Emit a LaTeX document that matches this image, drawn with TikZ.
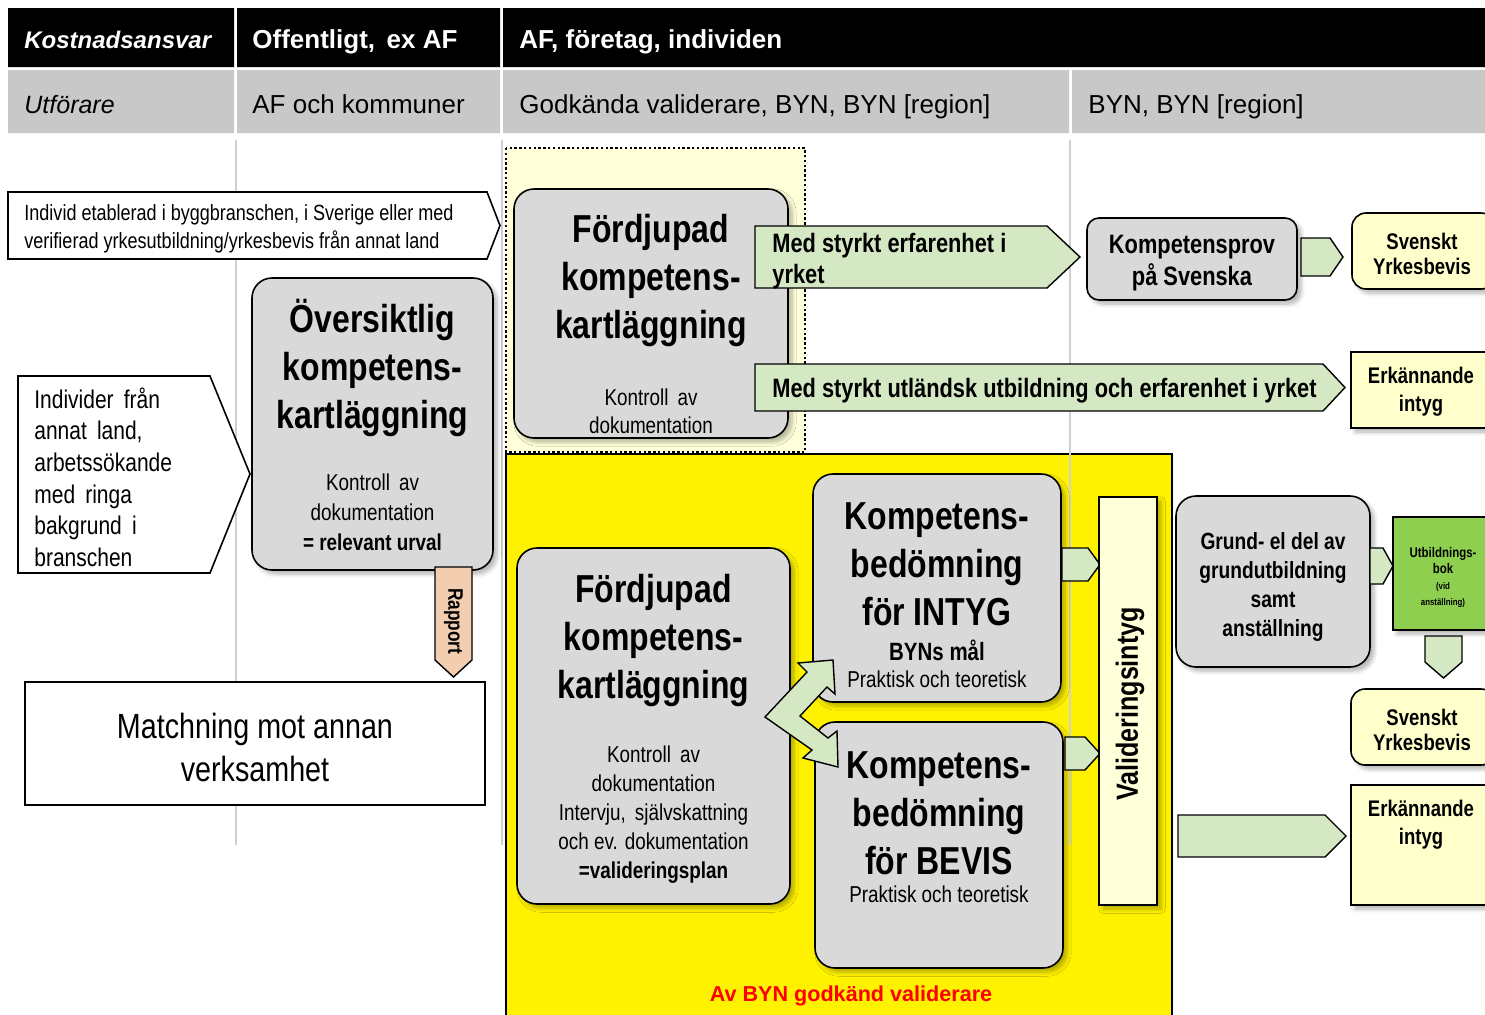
\documentclass[tikz,border=0pt]{standalone}
\usepackage{fontspec}
\setmainfont{Liberation Sans}
\newfontfamily\nar[FakeStretch=0.82]{Liberation Sans}
\usetikzlibrary{shadows.blur}
\definecolor{hdrgray}{HTML}{C8C8C8}
\definecolor{boxgray}{HTML}{D9D9D9}
\definecolor{lyellow}{HTML}{FFFFCC}
\definecolor{dyellow}{HTML}{FFFFDA}
\definecolor{lgreen}{HTML}{D5E8C4}
\definecolor{dgreen}{HTML}{8FCF50}
\definecolor{peach}{HTML}{F3CDAF}
\definecolor{vline}{HTML}{D0D0D0}
\begin{document}
\begin{tikzpicture}[x=0.5pt,y=-0.5pt,
  shd/.style={blur shadow={shadow xshift=2pt,shadow yshift=-2pt,shadow blur steps=6,shadow opacity=30}},
  gbox/.style={draw=black,fill=boxgray,line width=0.8pt,rounded corners=10pt,shd},
  ybox/.style={draw=black,fill=lyellow,line width=0.8pt,shd},
  garr/.style={draw=black,fill=lgreen,line width=0.7pt},
  warr/.style={draw=black,fill=white,line width=0.8pt},
  txt/.style={inner sep=0pt,align=center,yshift=-1pt},
  hdr/.style={inner sep=0pt,anchor=base west,font=\fontsize{13}{15}\selectfont},
  title/.style={txt,font=\nar\bfseries\fontsize{19.5}{24}\selectfont},
  small/.style={txt,font=\nar\fontsize{11.5}{14.5}\selectfont},
  btxt/.style={txt,font=\nar\bfseries\fontsize{11.3}{12.5}\selectfont}
]
\useasboundingbox (0,0) rectangle (1485,1014);
\clip (0,0) rectangle (1485,1014);
% header
\fill[black] (8,8) rectangle (234,67) (237,8) rectangle (500,67) (503,8) rectangle (1490,67);
\fill[hdrgray] (8,70) rectangle (234,133) (237,70) rectangle (500,133) (503,70) rectangle (1069,133) (1072,70) rectangle (1490,133);
\node[hdr,text=white,font=\bfseries\itshape\fontsize{12}{15}\selectfont] (h1) at (24,48) {Kostnadsansvar};
\node[hdr,text=white,font=\bfseries\fontsize{13}{15}\selectfont] (h2) at (252,48) {Offentligt,\, ex AF};
\node[hdr,text=white,font=\bfseries\fontsize{13}{15}\selectfont] (h3) at (519,48) {AF, företag, individen};
\node[hdr,font=\itshape\fontsize{12.5}{15}\selectfont] (u1) at (24,113) {Utförare};
\node[hdr] (u2) at (252,113) {AF och kommuner};
\node[hdr] (u3) at (519,113) {Godkända validerare, BYN, BYN [region]};
\node[hdr] (u4) at (1088,113) {BYN, BYN [region]};
% yellow area
\fill[dyellow] (506,148) rectangle (805,452);
\draw[line width=1.4pt,dash pattern=on 1.2pt off 1.2pt] (506,148) rectangle (805,452);
\fill[yellow] (506,454) rectangle (1172,1020);
\draw[line width=1pt] (506,1020) -- (506,454) -- (1172,454) -- (1172,1020);
% column lines
\draw[vline,line width=0.6pt] (236,140) -- (236,845) (502,140) -- (502,845) (1070,140) -- (1070,845);
% left arrows
\draw[warr] (8,192) -- (487,192) -- (500,225.5) -- (487,259) -- (8,259) -- cycle;
\node[txt,anchor=west,align=left,font=\nar\fontsize{11}{14}\selectfont] (ind1) at (24,227) {Individ etablerad i byggbranschen, i Sverige eller med\\verifierad yrkesutbildning/yrkesbevis från annat land};
\draw[warr] (18,376) -- (210,376) -- (250,474) -- (210,573) -- (18,573) -- cycle;
\node[txt,anchor=west,align=left,font=\nar\fontsize{12.8}{15.8}\selectfont] (ind2) at (34,475) {Individer\, från\\annat\, land,\\arbetssökande\\med\, ringa\\bakgrund\, i\\branschen};
% Oversiktlig
\node[gbox,minimum width=120.5pt,minimum height=146pt] (ovs) at (372.5,424) {};
\node[title] (ovst) at (372.5,366) {Översiktlig\\kompetens-\\kartläggning};
\node[small,font=\nar\fontsize{11.5}{15}\selectfont] (ovss) at (372.5,510) {Kontroll\, av\\dokumentation\\\textbf{= relevant urval}};
% Rapport
\draw[line width=0.7pt,fill=peach] (435,567) -- (472,567) -- (472,660) -- (453.5,677) -- (435,660) -- cycle;
\node[txt,rotate=-90,font=\nar\bfseries\fontsize{10.5}{12}\selectfont] (rap) at (453.5,619) {Rapport};
% Matchning
\node[draw=black,line width=0.8pt,fill=white,minimum width=230pt,minimum height=61.5pt] (mat) at (255,743.5) {};
\node[txt,font=\nar\fontsize{17.5}{21.5}\selectfont] (matt) at (255,745) {Matchning mot annan\\verksamhet};
% Fordjupad 1
\node[gbox,minimum width=137pt,minimum height=124.5pt] (fk1) at (651,313.5) {};
\node[title] (fk1t) at (651,278) {Fördjupad\\kompetens-\\kartläggning};
\node[small,font=\nar\fontsize{11.5}{14}\selectfont] (fk1s) at (651,409) {Kontroll\, av\\dokumentation};
% green arrows top
\draw[garr] (755,226) -- (1047,226) -- (1080,257) -- (1047,288) -- (755,288) -- cycle;
\node[txt,anchor=west,align=left,font=\nar\bfseries\fontsize{13.3}{15.5}\selectfont] (ga1t) at (772,259) {Med styrkt erfarenhet i\\yrket};
\node[gbox,rounded corners=6pt,minimum width=105pt,minimum height=41pt] (kps) at (1192,259) {};
\node[txt,font=\nar\bfseries\fontsize{13.3}{16}\selectfont] (kpst) at (1192,261) {Kompetensprov\\på Svenska};
\draw[garr] (1301,238) -- (1330,238) -- (1343,257) -- (1330,276) -- (1301,276) -- cycle;
\node[ybox,rounded corners=7pt,minimum width=71.5pt,minimum height=38pt] (sy1) at (1423.5,251) {};
\node[btxt] (sy1t) at (1422,252) {Svenskt\\Yrkesbevis};
\draw[garr] (755,364) -- (1323,364) -- (1345,387.5) -- (1323,411) -- (755,411) -- cycle;
\node[txt,anchor=west,font=\nar\bfseries\fontsize{13.3}{15.5}\selectfont] (ga3t) at (772,389) {Med styrkt utländsk utbildning och erfarenhet i yrket};
\node[ybox,minimum width=72pt,minimum height=38pt] (ei1) at (1423,390) {};
\node[btxt,font=\nar\bfseries\fontsize{11.3}{14}\selectfont] (ei1t) at (1421,390) {Erkännande\\intyg};
% Fordjupad 2
\node[gbox,minimum width=136.5pt,minimum height=178pt] (fk2) at (653.5,726) {};
\node[title] (fk2t) at (653.5,638) {Fördjupad\\kompetens-\\kartläggning};
\node[small] (fk2s) at (653.5,813) {Kontroll\, av\\dokumentation\\Intervju,\, självskattning\\och ev. dokumentation\\\textbf{=valideringsplan}};
% Kompetensbedomning INTYG
\node[gbox,minimum width=124pt,minimum height=114pt] (kbi) at (937,588) {};
\node[title] (kbit) at (937,562) {Kompetens-\\bedömning\\för INTYG};
\node[txt,font=\nar\bfseries\fontsize{12.5}{14}\selectfont] (kbim) at (937,648) {BYNs mål};
\node[small] (kbis) at (937,677) {Praktisk och teoretisk};
% Kompetensbedomning BEVIS
\node[gbox,minimum width=124pt,minimum height=123pt] (kbb) at (939,845) {};
\node[title] (kbbt) at (939,811) {Kompetens-\\bedömning\\för BEVIS};
\node[small] (kbbs) at (939,892) {Praktisk och teoretisk};
% double arrow
\draw[garr] (765,717) -- (807,672) -- (798,663) -- (833,660) -- (835,694) -- (827,687) -- (800,716)
  -- (828,738) -- (837,731) -- (838,767) -- (803,758) -- (812,750) -- cycle;
% arrows to Valideringsintyg
\draw[garr] (1062,548) -- (1088,548) -- (1100,564.5) -- (1088,581) -- (1062,581) -- cycle;
\draw[garr] (1065,737) -- (1085,737) -- (1100,753.5) -- (1085,770) -- (1065,770) -- cycle;
\node[ybox,fill=dyellow,minimum width=29pt,minimum height=204pt] (val) at (1128,701) {};
\node[txt,rotate=90,font=\nar\bfseries\fontsize{15.3}{18}\selectfont] (valt) at (1130,702) {Valideringsintyg};
% Grund
\node[gbox,minimum width=97pt,minimum height=85.5pt] (grd) at (1273,581.5) {};
\node[txt,font=\nar\bfseries\fontsize{11.7}{14.6}\selectfont] (grdt) at (1273,585) {Grund- el del av\\grundutbildning\\samt\\anställning};
\draw[garr] (1370,548) -- (1383,548) -- (1393,566) -- (1383,584) -- (1370,584) -- cycle;
\node[draw=black,line width=0.8pt,fill=dgreen,shd,minimum width=51pt,minimum height=56.5pt] (ubb) at (1444,573.5) {};
\node[txt,font=\nar\bfseries\fontsize{7}{8}\selectfont] (ubbt) at (1443,575) {Utbildnings-\\bok\\\fontsize{4.8}{6.5}\selectfont(vid\\\fontsize{4.8}{6.5}\selectfont anställning)};
\draw[garr] (1425,636) -- (1462,636) -- (1462,662) -- (1443.5,678) -- (1425,662) -- cycle;
\node[ybox,rounded corners=7pt,minimum width=72pt,minimum height=38pt] (sy2) at (1423,727) {};
\node[btxt] (sy2t) at (1422,728) {Svenskt\\Yrkesbevis};
\draw[garr] (1178,815) -- (1325,815) -- (1346,836) -- (1325,857) -- (1178,857) -- cycle;
\node[ybox,minimum width=72pt,minimum height=60pt] (ei2) at (1423,845) {};
\node[btxt,font=\nar\bfseries\fontsize{11.3}{14}\selectfont] (ei2t) at (1421,823) {Erkännande\\intyg};
% red label
\node[txt,text=red,font=\bfseries\fontsize{10.8}{13}\selectfont] (byn) at (851,994) {Av BYN godkänd validerare};
\end{tikzpicture}
\end{document}
